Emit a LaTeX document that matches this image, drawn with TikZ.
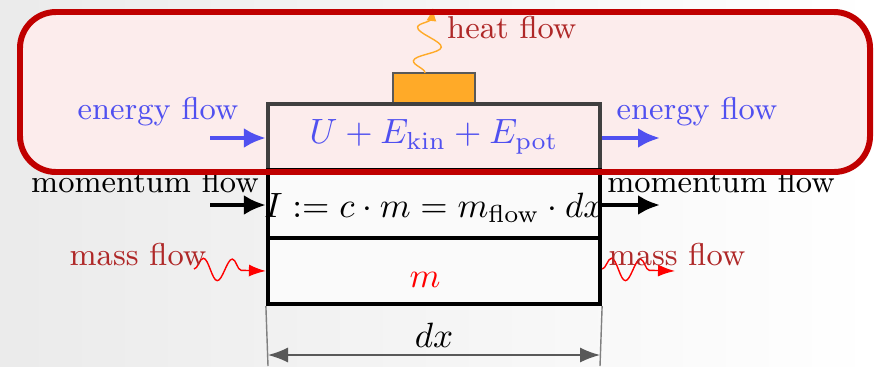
\documentclass[tikz,border=0pt]{standalone}
\usepackage{tikz}
\usetikzlibrary{calc}
\usetikzlibrary{arrows.meta}
\usetikzlibrary{decorations.pathmorphing}
\usepackage{xcolor}

\definecolor{flowblue}{RGB}{80,80,240}
\definecolor{flowred}{RGB}{175,40,40}
\definecolor{framered}{RGB}{192,0,0}
\definecolor{framepink}{RGB}{252,236,236}
\definecolor{heatorange}{RGB}{255,170,40}

\begin{document}
\begin{tikzpicture}[every node/.style={font=\small, inner sep=1pt},
	cell/.style={draw, very thick, fill=white!96!gray, minimum width=3.32cm, inner sep=0pt},
	formula/.style={font=\fontsize{9.6}{11}\selectfont, inner sep=0pt},
	flow/.style={line width=1.3pt, -{Latex[length=2.2mm,width=2mm]}},
	wavy/.style={decorate, decoration={snake, amplitude=1.1mm, segment length=2.9mm, post length=1.6mm}}]
			% background and page size
			\shade[left color=gray!16, right color=white] (0,0) rectangle (8.76,3.66);
			\useasboundingbox (0,0) rectangle (8.76,3.66);
			\fill[framepink, rounded corners=0.36cm] (0.20,1.94) rectangle (8.70,3.54);

			% control volume dx
			\node[cell, thin, draw=gray!70!black, fill=heatorange, minimum width=0.82cm, minimum height=0.31cm] (heater) at (4.34,2.775) {};
			\node[cell, fill=none, draw=black!75, minimum height=0.66cm] (energy) at (4.34,2.29) {};
			\node[cell, minimum height=0.68cm] (momentum) at (4.34,1.62) {};
			\node[cell, minimum height=0.66cm] (mass) at (4.34,0.95) {};
			\node[formula, text=flowblue] (etext) at (energy) {$U+E_{\mathrm{kin}}+E_{\mathrm{pot}}$};
			\node[formula] (ptext) at (4.34,1.58) {$I:=c\cdot m=m_{\mathrm{flow}}\cdot dx$};
			\node[formula, text=red] (mtext) at (4.25,0.86) {$m$};

			% heat flow
			\coordinate (heatfoot) at (4.25,2.93);
			\coordinate (heattip) at (4.33,3.58);
			\draw[heatorange, thin, -{Latex[length=1.3mm,width=1mm]}, decorate,
				decoration={snake, amplitude=1.3mm, segment length=3.4mm, post length=1mm}] (heatfoot) -- (heattip);
			\node[text=flowred, anchor=west] (heat) at (4.43,3.38) {heat flow};

			% energy flow
			\coordinate (ein) at (2.10,2.28);
			\coordinate (eout) at (6.60,2.28);
			\draw[flow, flowblue] (ein) -- (energy.west |- ein);
			\draw[flow, flowblue] (energy.east |- eout) -- (eout);
			\node[text=flowblue] (elabelin) at (1.58,2.54) {energy flow};
			\node[text=flowblue] (elabelout) at (6.97,2.54) {energy flow};

			% momentum flow
			\coordinate (pin) at (2.10,1.61);
			\coordinate (pout) at (6.60,1.61);
			\draw[flow] (pin) -- (momentum.west |- pin);
			\draw[flow] (momentum.east |- pout) -- (pout);
			\node (plabelin) at (1.45,1.84) {momentum flow};
			\node (plabelout) at (7.21,1.84) {momentum flow};

			% mass flow
			\coordinate (min) at (1.94,0.97);
			\coordinate (mout) at (6.75,0.95);
			\draw[red, thin, wavy, -{Latex[length=1.7mm,width=1.2mm]}] (min) -- (mass.west |- 0,0.95);
			\draw[red, thin, wavy, -{Latex[length=1.7mm,width=1.2mm]}] (mass.east |- 0,0.97) -- (mout);
			\node[text=flowred] (mlabelin) at (1.38,1.11) {mass flow};
			\node[text=flowred] (mlabelout) at (6.77,1.11) {mass flow};

			% dimension dx
			\coordinate (dl) at (2.68,0);
			\coordinate (dr) at (6.00,0);
			\draw[gray, thin] (mass.south west) -- (dl);
			\draw[gray, thin] (mass.south east) -- (dr);
			\draw[gray!70!black, thin, {Latex[length=2mm]}-{Latex[length=2mm]}] ($(dl)+(0,0.11)$) -- ($(dr)+(0,0.11)$);
			\node[formula] (dx) at (4.34,0.31) {$dx$};

			% highlighted energy balance
			\draw[framered, line width=1.7pt, rounded corners=0.36cm] (0.20,1.94) rectangle (8.70,3.54);
		\end{tikzpicture}
\end{document}
